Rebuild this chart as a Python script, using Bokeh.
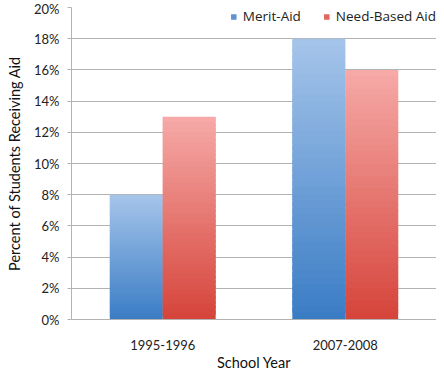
from bokeh.plotting import figure
from bokeh.models import FactorRange, NumeralTickFormatter, Legend, LegendItem, ColumnDataSource
from bokeh.transform import dodge
from bokeh.embed import file_html
from bokeh.resources import INLINE

years = ["1995-1996", "2007-2008"]
series = ["Merit-Aid", "Need-Based Aid"]
merit = [0.08, 0.18]
need = [0.13, 0.16]
y_ticks = [0, 0.02, 0.04, 0.06, 0.08, 0.10, 0.12, 0.14, 0.16, 0.18, 0.20]

grad = {
    "Merit-Aid": ((0x3a, 0x7c, 0xc5), (0xa6, 0xc5, 0xea)),
    "Need-Based Aid": ((0xd5, 0x44, 0x3a), (0xf6, 0xaa, 0xa8)),
}

p = figure(x_range=FactorRange(*years), y_range=(0, 0.2), width=436, height=373,
           output_backend="svg", toolbar_location=None,
           min_border_left=71, min_border_right=0, min_border_top=7, min_border_bottom=0)
p.outline_line_color = None

N = 40
renderers = {}
for name, vals, off in [("Merit-Aid", merit, -0.145), ("Need-Based Aid", need, 0.145)]:
    lo, hi = grad[name]
    xs, bots, tops, cols = [], [], [], []
    for cat, v in zip(years, vals):
        for i in range(N):
            t = (i + 0.5) / N
            c = tuple(int(round(lo[k] + (hi[k] - lo[k]) * t)) for k in range(3))
            xs.append(cat)
            bots.append(v * i / N)
            tops.append(v * (i + 1) / N + (0 if i == N - 1 else v / N * 0.8))
            cols.append("#%02x%02x%02x" % c)
    src = ColumnDataSource(dict(x=xs, bottom=bots, top=tops, color=cols))
    r = p.vbar(x=dodge("x", off, range=p.x_range), bottom="bottom", top="top", width=0.29,
               fill_color="color", line_color=None, source=src)
    renderers[name] = r

legend = Legend(items=[LegendItem(label=s, renderers=[renderers[s]], index=N // 3) for s in series],
                location="top_right", orientation="horizontal")
legend.label_text_font = "Open Sans"
legend.label_text_font_size = "13.5px"
legend.label_text_color = "#222222"
legend.glyph_width = 7
legend.glyph_height = 7
legend.label_standoff = 6
legend.spacing = 22
legend.padding = 2
legend.margin = 0
legend.border_line_color = None
legend.background_fill_alpha = 1
p.add_layout(legend)

p.yaxis.ticker = y_ticks
p.yaxis.formatter = NumeralTickFormatter(format="0%")
p.ygrid.ticker = y_ticks
p.ygrid.grid_line_color = "#b3b3b3"
p.xgrid.grid_line_color = None

for ax in (p.xaxis, p.yaxis):
    ax.axis_line_color = "#b3b3b3"
    ax.major_label_text_font = "Lato"
    ax.major_label_text_font_size = "13px"
    ax.major_label_text_color = "#222222"
    ax.axis_label_text_font = "Lato"
    ax.axis_label_text_font_style = "normal"
    ax.axis_label_text_font_size = "14.5px"
    ax.axis_label_text_color = "#111111"
    ax.minor_tick_line_color = None

p.yaxis.major_tick_line_color = "#b3b3b3"
p.yaxis.major_tick_out = 4
p.yaxis.major_tick_in = 0
p.yaxis.major_label_standoff = 8
p.yaxis.axis_label = "Percent of Students Receiving Aid"
p.yaxis.axis_label_standoff = 8

p.xaxis.major_tick_line_color = None
p.xaxis.major_label_standoff = 14
p.xaxis.axis_label = "School Year"
p.xaxis.axis_label_standoff = 1

open("out.html", "w").write(file_html(p, INLINE))
